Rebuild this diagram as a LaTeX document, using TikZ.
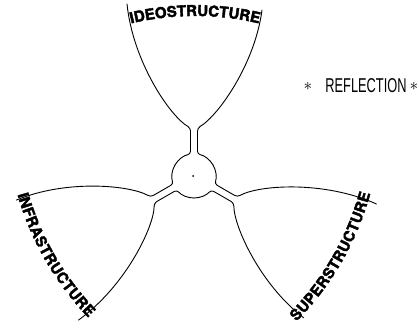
\documentclass[tikz,border=0pt]{standalone}
\usepackage{fontspec}
\usepackage{graphicx}
\usetikzlibrary{decorations.text}
\newfontfamily\lobefont{TeX Gyre Heros}[BoldFeatures={FakeBold=2.5}]
\newfontfamily\reflfont{Liberation Sans}
\newcommand\lobestyle{\lobefont\bfseries\fontsize{15pt}{15pt}\selectfont}
\tikzset{
  outline/.style={line width=0.9pt, line cap=round, line join=round, rounded corners=3pt},
  lobelabel/.style={decorate, decoration={text along path, text align=center, text={|\lobestyle|#1}}},
  lobelabelin/.style={decorate, decoration={text along path, text align=center, raise=-11pt, text={|\lobestyle|#1}}}
}
\begin{document}
\begin{tikzpicture}[x=1pt,y=1pt]
\useasboundingbox (0,0) rectangle (419,-329);
\coordinate (C) at (194,-176);
\foreach \ang in {0,120,-120}{
  \begin{scope}[shift={(C)}, rotate=\ang]
    \draw[outline] (-67,172) .. controls (-61,114) and (-24,60) .. (-3.5,48) -- (-3.5,21.72) arc[start angle=99.15, end angle=150, radius=22];
    \draw[outline] (68,166) .. controls (61,112) and (24,60) .. (3.5,48) -- (3.5,21.72) arc[start angle=80.85, end angle=30, radius=22];
  \end{scope}
}
\begin{scope}[shift={(C)}]
  \path[lobelabel=IDEOSTRUCTURE] ([shift={(1,-120)}]104:280) arc[start angle=104, end angle=76, radius=280];
\end{scope}
\begin{scope}[shift={(C)}, rotate=120]
  \path[lobelabelin=INFRASTRUCTURE] ([shift={(1,-120)}]76:280) arc[start angle=76, end angle=104, radius=280];
\end{scope}
\begin{scope}[shift={(C)}, rotate=-120]
  \path[lobelabelin=SUPERSTRUCTURE] ([shift={(1,-120)}]76:280) arc[start angle=76, end angle=104, radius=280];
\end{scope}
\fill ([xshift=-1pt]C) circle (1);
\node[font=\reflfont\fontsize{20pt}{20pt}\selectfont, inner sep=0pt] (refl) at (366,-86) {\scalebox{0.64}[1]{REFLECTION}};
\node[inner sep=0pt, font=\fontsize{16pt}{16pt}\selectfont] (star1) at (308,-86) {$\ast$};
\node[inner sep=0pt, font=\fontsize{16pt}{16pt}\selectfont] (star2) at (414,-86) {$\ast$};
\end{tikzpicture}
\end{document}
